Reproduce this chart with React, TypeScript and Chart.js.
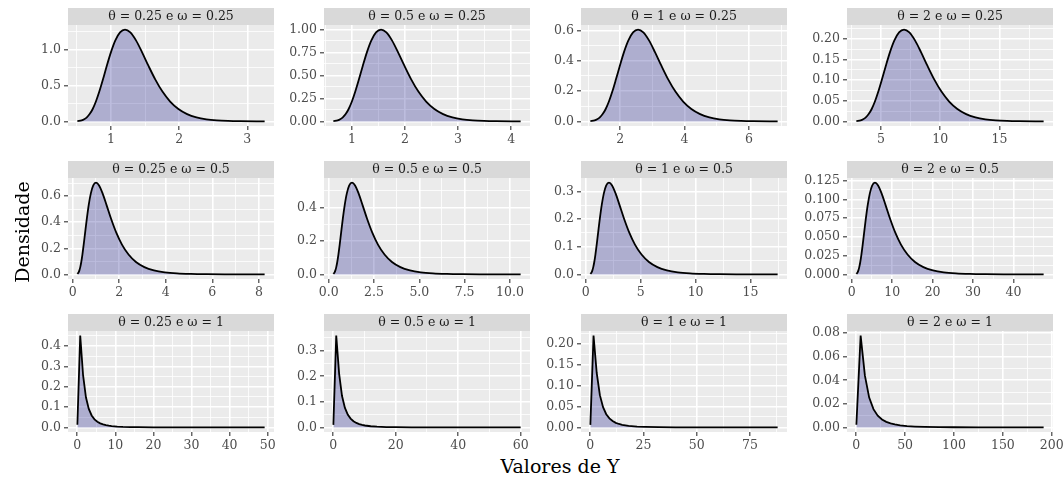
import React, { useEffect, useRef } from "react";
import { Chart, registerables } from "chart.js";
Chart.register(...registerables);

const FONT = "'DejaVu Serif', serif";

// ---------- data ----------
// Row 1: omega = 0.25
const x_t025_w025 = [0.507, 0.570, 0.607, 0.646, 0.687, 0.732, 0.779, 0.829, 0.883, 0.939, 1.000, 1.064, 1.133, 1.206, 1.284, 1.367, 1.455, 1.549, 1.649, 1.755, 1.868, 1.989, 2.117, 2.254, 2.399, 2.553, 2.718, 2.894, 3.254];
const y_t025_w025 = [0.0031, 0.0143, 0.0292, 0.0563, 0.1020, 0.1735, 0.2773, 0.4163, 0.5871, 0.7777, 0.9679, 1.1316, 1.2428, 1.2822, 1.2428, 1.1316, 0.9680, 0.7777, 0.5871, 0.4163, 0.2773, 0.1735, 0.1020, 0.0563, 0.0292, 0.0143, 0.0065, 0.0028, 0.0005];

const x_t05_w025 = [0.651, 0.732, 0.779, 0.829, 0.883, 0.939, 1.000, 1.064, 1.133, 1.206, 1.284, 1.367, 1.455, 1.549, 1.649, 1.755, 1.868, 1.989, 2.117, 2.253, 2.399, 2.554, 2.718, 2.894, 3.080, 3.279, 3.490, 3.715, 4.179];
const y_t05_w025 = [0.0024, 0.0111, 0.0227, 0.0439, 0.0795, 0.1351, 0.2160, 0.3242, 0.4572, 0.6057, 0.7538, 0.8812, 0.9679, 0.9985, 0.9679, 0.8812, 0.7538, 0.6057, 0.4572, 0.3242, 0.2160, 0.1351, 0.0795, 0.0439, 0.0227, 0.0111, 0.0051, 0.0022, 0.0004];

const x_t1_w025 = [1.073, 1.206, 1.284, 1.367, 1.455, 1.549, 1.649, 1.755, 1.868, 1.989, 2.117, 2.254, 2.399, 2.554, 2.718, 2.894, 3.080, 3.279, 3.490, 3.715, 3.955, 4.210, 4.482, 4.771, 5.078, 5.406, 5.755, 6.126, 6.890];
const y_t1_w025 = [0.0015, 0.0067, 0.0138, 0.0266, 0.0482, 0.0820, 0.1310, 0.1967, 0.2773, 0.3674, 0.4572, 0.5346, 0.5871, 0.6057, 0.5871, 0.5346, 0.4572, 0.3674, 0.2773, 0.1966, 0.1310, 0.0820, 0.0482, 0.0266, 0.0138, 0.0067, 0.0031, 0.0013, 0.0002];

const x_t2_w025 = [2.916, 3.279, 3.491, 3.715, 3.955, 4.210, 4.482, 4.770, 5.079, 5.406, 5.755, 6.126, 6.521, 6.941, 7.389, 7.866, 8.373, 8.913, 9.488, 10.099, 10.751, 11.444, 12.183, 12.969, 13.804, 14.695, 15.643, 16.651, 18.728];
const y_t2_w025 = [0.00054, 0.00248, 0.00508, 0.00978, 0.01773, 0.03015, 0.04819, 0.07235, 0.10202, 0.13515, 0.16820, 0.19665, 0.21598, 0.22282, 0.21598, 0.19665, 0.16820, 0.13515, 0.10202, 0.07234, 0.04819, 0.03015, 0.01773, 0.00978, 0.00508, 0.00248, 0.00113, 0.00049, 0.00008];

// Row 2: omega = 0.5
const x_t025_w05 = [0.200, 0.253, 0.287, 0.325, 0.368, 0.417, 0.472, 0.535, 0.607, 0.687, 0.779, 0.883, 1.000, 1.133, 1.284, 1.455, 1.649, 1.868, 2.117, 2.399, 2.718, 3.080, 3.490, 3.955, 4.482, 5.078, 5.755, 6.521, 8.248];
const y_t025_w05 = [0.0039, 0.0161, 0.0309, 0.0560, 0.0953, 0.1523, 0.2286, 0.3224, 0.4271, 0.5315, 0.6214, 0.6825, 0.7041, 0.6825, 0.6214, 0.5315, 0.4271, 0.3224, 0.2286, 0.1523, 0.0953, 0.0560, 0.0309, 0.0161, 0.0078, 0.0036, 0.0015, 0.0006, 0.0001];

const x_t05_w05 = [0.257, 0.325, 0.368, 0.417, 0.472, 0.535, 0.607, 0.687, 0.779, 0.883, 1.000, 1.133, 1.284, 1.455, 1.649, 1.868, 2.117, 2.399, 2.718, 3.080, 3.490, 3.955, 4.482, 5.078, 5.755, 6.521, 7.389, 8.373, 10.591];
const y_t05_w05 = [0.0031, 0.0125, 0.0241, 0.0436, 0.0742, 0.1186, 0.1780, 0.2511, 0.3326, 0.4139, 0.4839, 0.5315, 0.5484, 0.5315, 0.4839, 0.4139, 0.3326, 0.2511, 0.1780, 0.1186, 0.0742, 0.0436, 0.0241, 0.0125, 0.0061, 0.0028, 0.0012, 0.0005, 0.0001];

const x_t1_w05 = [0.423, 0.535, 0.607, 0.687, 0.779, 0.883, 1.000, 1.133, 1.284, 1.455, 1.649, 1.868, 2.117, 2.399, 2.718, 3.080, 3.490, 3.955, 4.482, 5.079, 5.755, 6.521, 7.389, 8.373, 9.488, 10.751, 12.183, 13.805, 17.462];
const y_t1_w05 = [0.0019, 0.0076, 0.0146, 0.0265, 0.0450, 0.0719, 0.1080, 0.1523, 0.2018, 0.2511, 0.2935, 0.3224, 0.3326, 0.3224, 0.2935, 0.2511, 0.2018, 0.1523, 0.1080, 0.0719, 0.0450, 0.0265, 0.0146, 0.0076, 0.0037, 0.0017, 0.0007, 0.0003, 0.00004];

const x_t2_w05 = [1.150, 1.455, 1.649, 1.868, 2.117, 2.399, 2.718, 3.080, 3.490, 3.955, 4.482, 5.078, 5.755, 6.521, 7.389, 8.373, 9.488, 10.751, 12.183, 13.805, 15.643, 17.726, 20.086, 22.760, 25.790, 29.225, 33.116, 37.525, 47.465];
const y_t2_w05 = [0.00069, 0.00279, 0.00538, 0.00973, 0.01656, 0.02646, 0.03972, 0.05602, 0.07422, 0.09236, 0.10799, 0.11860, 0.12237, 0.11860, 0.10799, 0.09236, 0.07422, 0.05602, 0.03972, 0.02646, 0.01656, 0.00973, 0.00538, 0.00279, 0.00136, 0.00062, 0.00027, 0.00011, 0.00002];

// Row 3: omega = 1 (coarse grid, sharp peak)
const x_t025_w1 = [0.031, 0.781, 1.531, 2.281, 3.031, 3.781, 4.531, 5.281, 6.031, 6.781, 7.531, 8.281, 9.031, 10.5, 12, 14, 16, 20, 25, 30, 40, 49.2];
const y_t025_w1 = [0.0126, 0.4514, 0.2566, 0.1483, 0.0910, 0.0589, 0.0397, 0.0278, 0.0200, 0.0147, 0.0111, 0.0085, 0.0066, 0.0042, 0.0027, 0.0016, 0.0010, 0.0005, 0.0002, 0.0001, 0.00002, 0.000006];

const x_t05_w1 = [0.040, 0.96, 1.88, 2.80, 3.72, 4.64, 5.56, 6.48, 7.40, 8.32, 9.24, 10.16, 12, 14, 17, 20, 25, 30, 40, 50, 60];
const y_t05_w1 = [0.0099, 0.359, 0.2104, 0.1238, 0.0770, 0.0503, 0.0343, 0.0241, 0.0175, 0.0129, 0.0098, 0.0075, 0.0046, 0.0029, 0.0015, 0.0009, 0.0004, 0.0002, 0.00006, 0.00002, 0.000008];

const x_t1_w1 = [0.066, 1.556, 3.046, 4.536, 6.026, 7.516, 9.006, 10.5, 12, 13.5, 15, 18, 22, 26, 32, 40, 50, 65, 88];
const y_t1_w1 = [0.0060, 0.2194, 0.1301, 0.0771, 0.0482, 0.0316, 0.0216, 0.0153, 0.0110, 0.0082, 0.0062, 0.0037, 0.0020, 0.0012, 0.0006, 0.00027, 0.00012, 0.00004, 0.00001];

const x_t2_w1 = [0.179, 4.55, 8.92, 13.29, 17.66, 22.03, 26.4, 30.77, 35.14, 39.51, 45, 52, 60, 70, 85, 100, 125, 150, 191.7];
const y_t2_w1 = [0.0022, 0.0779, 0.0439, 0.0253, 0.0155, 0.0100, 0.0067, 0.0047, 0.0034, 0.0025, 0.0017, 0.0011, 0.00074, 0.00046, 0.00024, 0.00013, 0.00006, 0.00003, 0.000009];

// Panel titles
const titles = [
  "θ = 0.25 e ω = 0.25", "θ = 0.5 e ω = 0.25", "θ = 1 e ω = 0.25", "θ = 2 e ω = 0.25",
  "θ = 0.25 e ω = 0.5", "θ = 0.5 e ω = 0.5", "θ = 1 e ω = 0.5", "θ = 2 e ω = 0.5",
  "θ = 0.25 e ω = 1", "θ = 0.5 e ω = 1", "θ = 1 e ω = 1", "θ = 2 e ω = 1",
];

// Tick labels (x then y) per panel
const xTickLabels = [
  ["1", "2", "3"], ["1", "2", "3", "4"], ["2", "4", "6"], ["5", "10", "15"],
  ["0", "2", "4", "6", "8"], ["0.0", "2.5", "5.0", "7.5", "10.0"], ["0", "5", "10", "15"], ["0", "10", "20", "30", "40"],
  ["0", "10", "20", "30", "40", "50"], ["0", "20", "40", "60"], ["0", "25", "50", "75"], ["0", "50", "100", "150", "200"],
];
const yTickLabels = [
  ["0.0", "0.5", "1.0"], ["0.00", "0.25", "0.50", "0.75", "1.00"], ["0.0", "0.2", "0.4", "0.6"], ["0.00", "0.05", "0.10", "0.15", "0.20"],
  ["0.0", "0.2", "0.4", "0.6"], ["0.0", "0.2", "0.4"], ["0.0", "0.1", "0.2", "0.3"], ["0.000", "0.025", "0.050", "0.075", "0.100", "0.125"],
  ["0.0", "0.1", "0.2", "0.3", "0.4"], ["0.0", "0.1", "0.2", "0.3"], ["0.00", "0.05", "0.10", "0.15", "0.20"], ["0.00", "0.02", "0.04", "0.06", "0.08"],
];

const seriesX = [x_t025_w025, x_t05_w025, x_t1_w025, x_t2_w025, x_t025_w05, x_t05_w05, x_t1_w05, x_t2_w05, x_t025_w1, x_t05_w1, x_t1_w1, x_t2_w1];
const seriesY = [y_t025_w025, y_t05_w025, y_t1_w025, y_t2_w025, y_t025_w05, y_t05_w05, y_t1_w05, y_t2_w05, y_t025_w1, y_t05_w1, y_t1_w1, y_t2_w1];

// ---------- layout ----------
const COL_LEFT = [68, 324, 581, 847];
const STRIP_TOP = [8, 161, 314];
const PANEL_W = 206;
const PANEL_H = 101;
const STRIP_H = 17;
const Y_AXIS_W = 50;
const PAD_L = 8;
const PAD_R = 14;
const X_AXIS_H = 22;
const TICK_FONT = 12.5;
const TITLE_FONT = 19;

type Tk = { value: number; lbl: string; minor: boolean };

function expandRange(lo: number, hi: number): [number, number] {
  const d = (hi - lo) * 0.05;
  return [lo - d, hi + d];
}

function makeTicks(labels: string[], lo: number, hi: number): Tk[] {
  const vals = labels.map((s) => parseFloat(s));
  const out: Tk[] = [];
  vals.forEach((v, i) => {
    if (v >= lo - 1e-9 && v <= hi + 1e-9) out.push({ value: v, lbl: labels[i], minor: false });
  });
  const step = vals.length > 1 ? vals[1] - vals[0] : 1;
  const ext = [vals[0] - step, ...vals, vals[vals.length - 1] + step];
  for (let i = 0; i < ext.length - 1; i++) {
    const m = (ext[i] + ext[i + 1]) / 2;
    if (m >= lo && m <= hi) out.push({ value: m, lbl: "", minor: true });
  }
  out.sort((a, b) => a.value - b.value);
  return out;
}

const stripPlugin = {
  id: "strip",
  beforeDraw(chart: any, _args: any, opts: any) {
    const { ctx, chartArea: a } = chart;
    ctx.save();
    ctx.fillStyle = "#EBEBEB";
    ctx.fillRect(a.left, a.top, a.right - a.left, a.bottom - a.top);
    ctx.fillStyle = "#D9D9D9";
    ctx.fillRect(a.left, a.top - STRIP_H, a.right - a.left, STRIP_H);
    ctx.fillStyle = "#1A1A1A";
    ctx.font = `${TICK_FONT}px ${FONT}`;
    ctx.textAlign = "center";
    ctx.textBaseline = "middle";
    ctx.fillText(opts.title, (a.left + a.right) / 2, a.top - STRIP_H / 2 + 0.5);
    ctx.restore();
  },
};

function scaleOpts(ticks: Tk[], lo: number, hi: number, isX: boolean): any {
  return {
    type: "linear",
    min: lo,
    max: hi,
    bounds: "data",
    border: { display: false },
    grid: {
      color: "#FFFFFF",
      lineWidth: (c: any) => (c.tick && c.tick.minor ? 0.8 : 1.6),
      tickColor: (c: any) => (c.tick && c.tick.minor ? "rgba(0,0,0,0)" : "#333333"),
      tickWidth: 1.1,
      tickLength: 4,
      drawTicks: true,
      drawOnChartArea: true,
    },
    ticks: {
      autoSkip: false,
      maxRotation: 0,
      minRotation: 0,
      padding: isX ? 2 : 3,
      color: "#4D4D4D",
      font: { family: FONT, size: TICK_FONT },
      callback: (_v: any, i: number, t: any[]) => (t[i] && t[i].lbl ? t[i].lbl : ""),
    },
    afterBuildTicks: (s: any) => {
      s.ticks = ticks.map((t) => ({ ...t }));
    },
    afterFit: (s: any) => {
      if (isX) s.height = X_AXIS_H;
      else s.width = Y_AXIS_W;
    },
  };
}

function Panel({ idx }: { idx: number }) {
  const ref = useRef<HTMLCanvasElement>(null);
  const row = Math.floor(idx / 4);
  const col = idx % 4;
  const w = PAD_L + Y_AXIS_W + PANEL_W + PAD_R;
  const h = STRIP_H + PANEL_H + X_AXIS_H;

  useEffect(() => {
    const xs = seriesX[idx];
    const ys = seriesY[idx];
    const [xLo, xHi] = expandRange(Math.min(...xs), Math.max(...xs));
    const [yLo, yHi] = expandRange(0, Math.max(...ys));
    const smooth = row < 2;
    const chart = new Chart(ref.current as HTMLCanvasElement, {
      type: "line",
      data: {
        datasets: [
          {
            data: xs.map((x, i) => ({ x, y: ys[i] })),
            borderColor: "#000000",
            borderWidth: 1.8,
            backgroundColor: "rgba(0,0,128,0.26)",
            fill: "origin",
            pointRadius: 0,
            tension: smooth ? 0.4 : 0,
            cubicInterpolationMode: smooth ? "monotone" : "default",
          } as any,
        ],
      },
      options: {
        responsive: false,
        animation: false,
        events: [],
        layout: { padding: { left: PAD_L, right: PAD_R, top: STRIP_H, bottom: 0 } },
        plugins: {
          legend: { display: false },
          tooltip: { enabled: false },
          title: { display: false },
          strip: { title: titles[idx] },
        } as any,
        scales: {
          x: scaleOpts(makeTicks(xTickLabels[idx], xLo, xHi), xLo, xHi, true),
          y: scaleOpts(makeTicks(yTickLabels[idx], yLo, yHi), yLo, yHi, false),
        },
      },
      plugins: [stripPlugin],
    });
    return () => chart.destroy();
  }, [idx]);

  return (
    <canvas
      ref={ref}
      width={w}
      height={h}
      style={{
        position: "absolute",
        left: COL_LEFT[col] - PAD_L - Y_AXIS_W,
        top: STRIP_TOP[row],
        width: w,
        height: h,
      }}
    />
  );
}

export default function App() {
  return (
    <div
      style={{
        position: "fixed",
        left: 0,
        top: 0,
        width: 1064,
        height: 478,
        overflow: "hidden",
        background: "#FFFFFF",
      }}
    >
      {titles.map((_, i) => (
        <Panel key={i} idx={i} />
      ))}
      <div
        style={{
          position: "absolute",
          left: 410,
          width: 300,
          top: 454,
          textAlign: "center",
          fontFamily: FONT,
          fontSize: TITLE_FONT,
          color: "#000000",
          lineHeight: "24px",
        }}
      >
        Valores de Y
      </div>
      <div
        style={{
          position: "absolute",
          left: 22 - 100,
          top: 232 - 12,
          width: 200,
          textAlign: "center",
          fontFamily: FONT,
          fontSize: TITLE_FONT,
          lineHeight: "24px",
          color: "#000000",
          transform: "rotate(-90deg)",
        }}
      >
        Densidade
      </div>
    </div>
  );
}
